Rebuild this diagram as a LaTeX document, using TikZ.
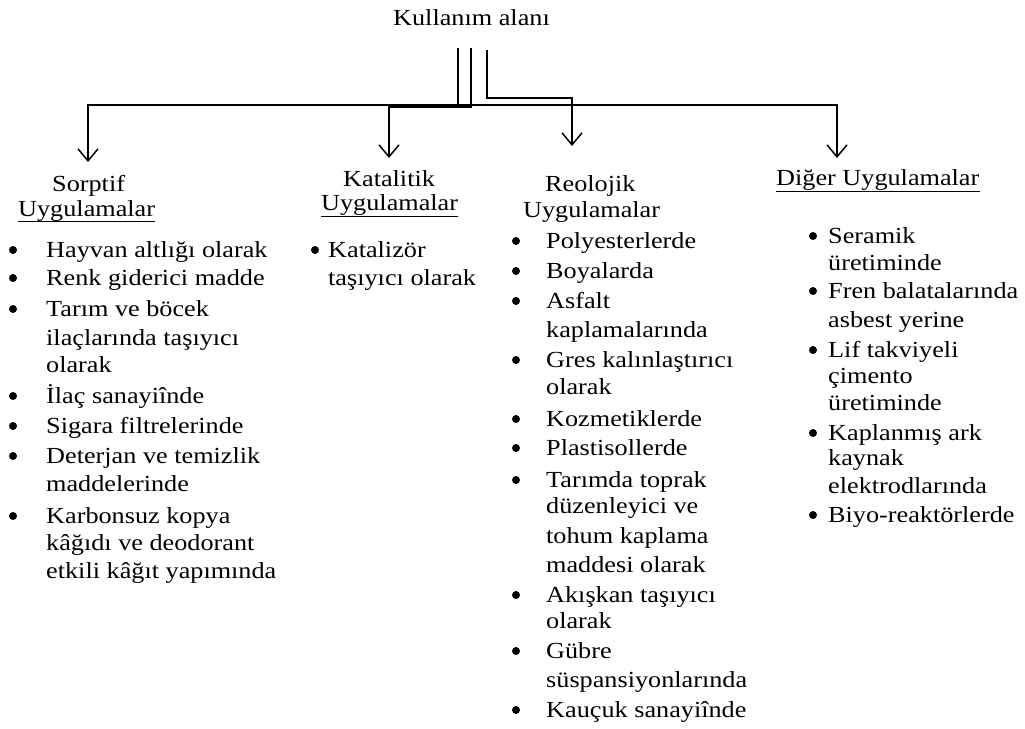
\documentclass[tikz,border=0pt]{standalone}
\usepackage{fontspec}
\setmainfont{Liberation Serif}[FakeStretch=1.14]
\usetikzlibrary{arrows.meta}
\begin{document}
\begin{tikzpicture}[x=1pt,y=-1pt,
  txt/.style={anchor=base west,inner sep=0pt,font=\fontsize{23}{27}\selectfont},
  bul/.style={circle,fill=black,inner sep=0pt,minimum size=8pt},
  conn/.style={line width=1.5pt,black},
  arr/.style={conn,-{Straight Barb[length=12pt,width=20pt,line width=1.5pt]}},
  uline/.style={line width=1pt}]
\useasboundingbox (0,0) rectangle (1025,728);

% title
\node[txt] (title) at (393,25) {Kullanım alanı};

% Sorptif
\node[txt] (sH1) at (52,191) {Sorptif};
\node[txt] (sH2) at (18,216) {Uygulamalar};
\draw[uline] ([yshift=-5pt]sH2.base west) -- ([yshift=-5pt]sH2.base east);
\foreach \n/\y/\t in {1/257/Hayvan altlığı olarak,2/285/Renk giderici madde,3/316/Tarım ve böcek,4/345/ilaçlarında taşıyıcı,5/372/olarak,6/403/İlaç sanayiînde,7/433/Sigara filtrelerinde,8/463/Deterjan ve temizlik,9/491/maddelerinde,10/523/Karbonsuz kopya,11/550/kâğıdı ve deodorant,12/578/etkili kâğıt yapımında}
  \node[txt] (s\n) at (46,\y) {\t};
\foreach \n/\y in {1/257,2/285,3/316,6/403,7/433,8/463,10/523}
  \node[bul] (sb\n) at (13,\y-7) {};

% Katalitik
\node[txt] (kH1) at (343,186) {Katalitik};
\node[txt] (kH2) at (321,210) {Uygulamalar};
\draw[uline] ([yshift=-6pt]kH2.base west) -- ([yshift=-6pt]kH2.base east);
\node[bul] (kb1) at (315,250) {};
\node[txt] (k1) at (328,257) {Katalizör};
\node[txt] (k2) at (328,285) {taşıyıcı olarak};

% Reolojik
\node[txt] (rH1) at (545,191) {Reolojik};
\node[txt] (rH2) at (523,217) {Uygulamalar};
\foreach \n/\y/\t in {1/248/Polyesterlerde,2/278/Boyalarda,3/308/Asfalt,4/337/kaplamalarında,5/367/Gres kalınlaştırıcı,6/394/olarak,7/426/Kozmetiklerde,8/455/Plastisollerde,9/487/Tarımda toprak,10/513/düzenleyici ve,11/543/tohum kaplama,12/572/maddesi olarak,13/602/Akışkan taşıyıcı,14/628/olarak,15/658/Gübre,16/687/süspansiyonlarında,17/717/Kauçuk sanayiînde}
  \node[txt] (r\n) at (546,\y) {\t};
\foreach \n/\y in {1/248,2/278,3/308,5/367,7/426,8/455,9/487,13/602,15/658,17/717}
  \node[bul] (rb\n) at (516,\y-7) {};

% Diger
\node[txt] (dH) at (776,185) {Diğer Uygulamalar};
\draw[uline] ([yshift=-6pt]dH.base west) -- ([yshift=-6pt]dH.base east);
\foreach \n/\y/\t in {1/243/Seramik,2/270/üretiminde,3/298/Fren balatalarında,4/327/asbest yerine,5/357/Lif takviyeli,6/383/çimento,7/410/üretiminde,8/440/Kaplanmış ark,9/465/kaynak,10/493/elektrodlarında,11/522/Biyo-reaktörlerde}
  \node[txt] (d\n) at (828,\y) {\t};
\foreach \n/\y in {1/243,3/298,5/357,8/440,11/522}
  \node[bul] (db\n) at (813,\y-7) {};

% connectors
\coordinate (a1) at (458,48);
\coordinate (a2) at (471,48);
\coordinate (a3) at (487,50);
\coordinate (j1) at (458,105);
\coordinate (tS) at (88,162);
\coordinate (tD) at (837,158);
\coordinate (tK) at (389,158);
\coordinate (tR) at (572,146);
\draw[conn] (a1) -- (j1);
\draw[arr] (j1) -| (tS);
\draw[arr] (j1) -| (tD);
\draw[arr] (a2) |- (389,107) -- (tK);
\draw[arr] (a3) |- (572,98) -- (tR);
\end{tikzpicture}
\end{document}
